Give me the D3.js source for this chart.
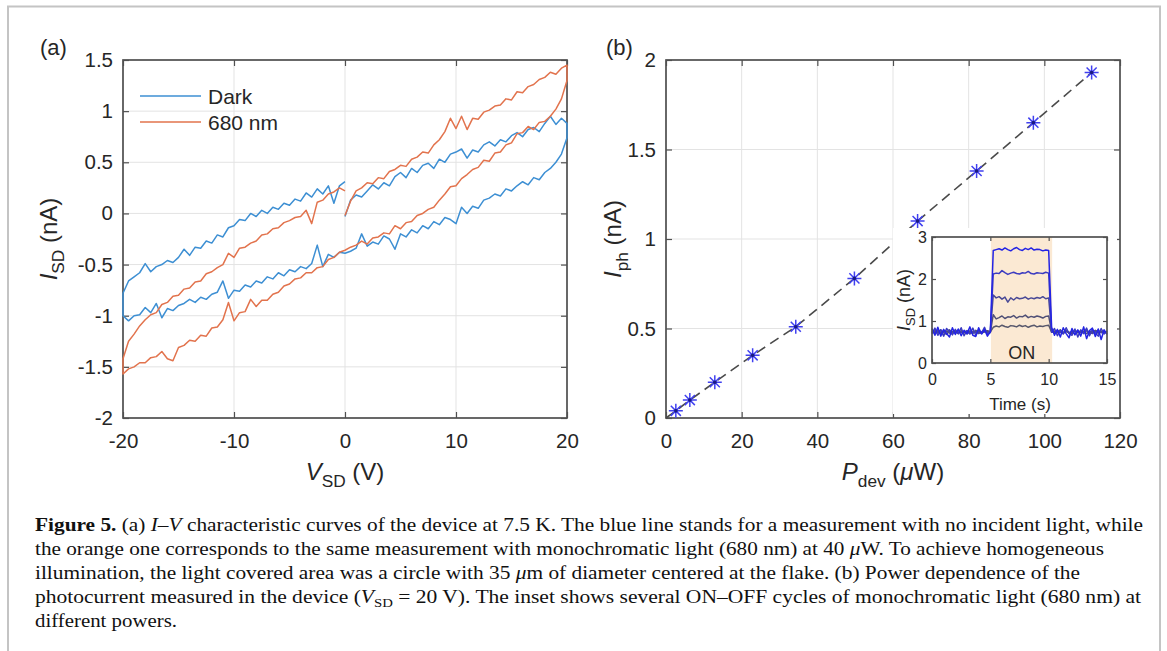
<!DOCTYPE html>
<html><head><meta charset="utf-8">
<script src="https://cdn.jsdelivr.net/npm/d3@7"></script>
<style>
body{margin:0;background:#fff;}
svg{display:block;}
text{font-family:"Liberation Sans",Arial,sans-serif;}
.cap text{font-family:"Liberation Serif","Times New Roman",serif;}
</style>
</head><body><svg id="c" width="1167" height="651"></svg>
<script>
// ---------- Panel (a) data ----------
const vNeg = [-20,-19.5,-19,-18.5,-18,-17.5,-17,-16.5,-16,-15.5,-15,-14.5,-14,-13.5,-13,-12.5,-12,-11.5,-11,-10.5,-10,-9.5,-9,-8.5,-8,-7.5,-7,-6.5,-6,-5.5,-5,-4.5,-4,-3.5,-3,-2.5,-2,-1.5,-1,-0.5,0];
const vPos = [0,0.5,1,1.5,2,2.5,3,3.5,4,4.5,5,5.5,6,6.5,7,7.5,8,8.5,9,9.5,10,10.5,11,11.5,12,12.5,13,13.5,14,14.5,15,15.5,16,16.5,17,17.5,18,18.5,19,19.5,20];

const darkUpperRight = [-0.03,0.13,0.18,0.16,0.22,0.28,0.24,0.3,0.27,0.36,0.4,0.35,0.44,0.4,0.47,0.49,0.44,0.53,0.5,0.58,0.6,0.63,0.54,0.62,0.6,0.67,0.7,0.66,0.72,0.7,0.76,0.79,0.75,0.82,0.84,0.8,0.88,0.95,0.87,0.93,0.88];
const darkLowerRight = [-0.39,-0.37,-0.34,-0.2,-0.32,-0.28,-0.3,-0.22,-0.25,-0.35,-0.2,-0.23,-0.16,-0.19,-0.12,-0.15,-0.08,-0.11,-0.04,-0.06,-0.1,0.06,0.0,0.07,0.05,0.13,0.15,0.19,0.17,0.24,0.22,0.27,0.31,0.28,0.35,0.33,0.4,0.44,0.5,0.58,0.74];
const darkLowerLeft = [-1.0,-1.05,-1.0,-0.99,-0.92,-0.97,-0.88,-1.02,-0.93,-0.95,-0.9,-0.88,-0.84,-0.87,-0.82,-0.84,-0.79,-0.77,-0.66,-0.83,-0.75,-0.76,-0.7,-0.72,-0.66,-0.68,-0.62,-0.64,-0.58,-0.61,-0.55,-0.57,-0.52,-0.54,-0.49,-0.31,-0.52,-0.4,-0.43,-0.38,-0.39];
const darkUpperLeft = [-0.78,-0.66,-0.62,-0.58,-0.49,-0.57,-0.52,-0.5,-0.46,-0.48,-0.43,-0.35,-0.41,-0.33,-0.34,-0.27,-0.29,-0.21,-0.23,-0.14,-0.12,-0.06,-0.07,0.0,-0.03,0.03,0.0,0.06,0.04,0.1,0.08,0.14,0.12,0.2,0.16,0.24,0.19,0.27,0.1,0.27,0.31];

const litUpperRight = [-0.02,0.12,0.22,0.25,0.3,0.29,0.35,0.34,0.41,0.43,0.47,0.46,0.53,0.55,0.6,0.59,0.67,0.72,0.8,0.93,0.83,0.95,0.82,0.93,0.92,0.99,1.01,1.05,1.06,1.12,1.11,1.19,1.18,1.24,1.26,1.31,1.33,1.38,1.36,1.42,1.45];
const litLowerRight = [-0.36,-0.33,-0.31,-0.27,-0.3,-0.24,-0.23,-0.19,-0.2,-0.12,-0.15,-0.09,-0.08,-0.02,0.0,0.04,0.06,0.13,0.19,0.26,0.27,0.34,0.38,0.43,0.45,0.52,0.51,0.59,0.6,0.67,0.69,0.78,0.79,0.85,0.82,0.89,0.9,0.95,1.02,1.12,1.3];
const litLowerLeft = [-1.57,-1.52,-1.5,-1.46,-1.46,-1.41,-1.4,-1.35,-1.42,-1.44,-1.31,-1.29,-1.24,-1.25,-1.19,-1.2,-1.12,-1.11,-1.04,-0.87,-1.05,-0.97,-0.96,-0.84,-0.91,-0.85,-0.85,-0.79,-0.77,-0.71,-0.69,-0.64,-0.63,-0.58,-0.58,-0.53,-0.52,-0.45,-0.43,-0.38,-0.36];
const litUpperLeft = [-1.42,-1.25,-1.18,-1.1,-1.04,-0.99,-0.97,-0.89,-0.87,-0.81,-0.8,-0.74,-0.73,-0.67,-0.66,-0.59,-0.57,-0.53,-0.5,-0.39,-0.43,-0.34,-0.33,-0.29,-0.27,-0.21,-0.2,-0.15,-0.14,-0.09,-0.07,-0.04,-0.03,0.03,-0.1,0.11,0.13,0.19,0.21,0.25,0.22];

const seriesNames = ["Dark","680 nm"];
const ticksAX = [-20,-10,0,10,20];
const ticksAY = [-2,-1.5,-1,-0.5,0,0.5,1,1.5];

// ---------- Panel (b) data ----------
const pDev = [2.6,6.3,12.9,22.9,34.3,49.8,66.5,82.1,97.1,112.5];
const iPh  = [0.04,0.1,0.2,0.35,0.51,0.78,1.1,1.38,1.65,1.93];
const fitStart = [0,0];
const ticksBX = [0,20,40,60,80,100,120];
const ticksBY = [0,0.5,1,1.5,2];

// ---------- Inset data ----------
const timeS = [0,0.25,0.5,0.75,1,1.25,1.5,1.75,2,2.25,2.5,2.75,3,3.25,3.5,3.75,4,4.25,4.5,4.75,5,5.25,5.5,5.75,6,6.25,6.5,6.75,7,7.25,7.5,7.75,8,8.25,8.5,8.75,9,9.25,9.5,9.75,10,10.25,10.5,10.75,11,11.25,11.5,11.75,12,12.25,12.5,12.75,13,13.25,13.5,13.75,14,14.25,14.5,14.75,15];
const trace1 = [0.82,0.66,0.85,0.64,0.8,0.7,0.62,0.84,0.68,0.81,0.65,0.78,0.7,0.86,0.66,0.63,0.84,0.69,0.8,0.64,0.74,
  2.68,2.7,2.72,2.69,2.74,2.7,2.67,2.72,2.75,2.7,2.68,2.73,2.7,2.74,2.69,2.71,2.7,2.67,2.69,2.68,
  0.85,0.66,0.8,0.62,0.84,0.7,0.6,0.82,0.67,0.79,0.64,0.86,0.58,0.77,0.83,0.63,0.81,0.56,0.79,0.68];
const trace2 = [0.7,0.83,0.66,0.79,0.64,0.82,0.75,0.67,0.8,0.7,0.84,0.65,0.77,0.69,0.83,0.66,0.78,0.72,0.85,0.68,0.73,
  2.12,2.14,2.13,2.2,2.15,2.11,2.14,2.16,2.13,2.12,2.15,2.14,2.18,2.13,2.12,2.15,2.14,2.13,2.16,2.14,
  0.73,0.82,0.65,0.78,0.69,0.84,0.7,0.66,0.81,0.62,0.79,0.7,0.83,0.65,0.8,0.72,0.64,0.82,0.69,0.76];
const trace3 = [0.76,0.7,0.74,0.79,0.72,0.68,0.77,0.74,0.71,0.78,0.73,0.75,0.69,0.77,0.72,0.76,0.7,0.74,0.78,0.72,0.76,
  1.62,1.55,1.58,1.52,1.57,1.45,1.55,1.5,1.56,1.53,1.54,1.57,1.52,1.55,1.53,1.56,1.54,1.58,1.53,1.55,
  0.75,0.71,0.77,0.73,0.7,0.78,0.72,0.75,0.69,0.76,0.74,0.71,0.77,0.73,0.7,0.75,0.78,0.72,0.74,0.71];
const trace4 = [0.72,0.77,0.73,0.7,0.76,0.74,0.79,0.71,0.75,0.7,0.77,0.72,0.76,0.74,0.7,0.78,0.73,0.71,0.75,0.77,0.73,
  1.15,1.05,1.08,1.12,1.06,1.1,1.09,1.13,1.07,1.11,1.1,1.14,1.08,1.11,1.09,1.12,1.1,1.07,1.11,1.12,
  0.76,0.72,0.74,0.79,0.71,0.75,0.73,0.7,0.77,0.74,0.72,0.76,0.7,0.75,0.73,0.78,0.71,0.74,0.76,0.73];
const trace5 = [0.75,0.73,0.77,0.72,0.74,0.76,0.71,0.75,0.73,0.78,0.72,0.74,0.76,0.7,0.75,0.73,0.77,0.71,0.74,0.76,0.74,
  0.85,0.88,0.86,0.9,0.87,0.85,0.89,0.88,0.86,0.9,0.87,0.89,0.85,0.88,0.9,0.86,0.88,0.87,0.89,0.9,
  0.74,0.76,0.72,0.75,0.73,0.77,0.71,0.74,0.76,0.72,0.75,0.73,0.78,0.7,0.74,0.76,0.72,0.75,0.73,0.74];
const onWindow = [5.05,10.3];
const ticksIX = [0,5,10,15];
const ticksIY = [0,1,2,3];

// ---------- Setup ----------
const svg = d3.select("#c");
const AX = "#505050", TXT = "#262626", GRID = "#e3e3e3";
const cBlue = "#3d8fd3", cOrange = "#e2734d";

svg.append("path").attr("d","M8,651 V6.5 H1160 V651").attr("fill","none").attr("stroke","#c4c4c4").attr("stroke-width",2);

function drawAxes(g, x, y, tx, ty, opts) {
  const [x0,x1] = x.range(), [y0,y1] = y.range();
  if (opts.grid) {
    g.append("g").selectAll("line").data(tx).join("line")
      .attr("x1",d=>x(d)).attr("x2",d=>x(d)).attr("y1",y0).attr("y2",y1)
      .attr("stroke",GRID).attr("stroke-width",1);
    g.append("g").selectAll("line").data(ty).join("line")
      .attr("y1",d=>y(d)).attr("y2",d=>y(d)).attr("x1",x0).attr("x2",x1)
      .attr("stroke",GRID).attr("stroke-width",1);
  }
  const fmt = d => String(d);
  const tl = opts.tick;
  const mk = (axis, tr, labels) => {
    const a = g.append("g").attr("transform",tr).call(axis);
    a.select(".domain").remove();
    a.selectAll(".tick line").attr("stroke",AX).attr("stroke-width",1.2);
    a.selectAll("text").attr("fill",TXT).style("font-size",opts.fs+"px");
    if (!labels) a.selectAll("text").remove();
    return a;
  };
  mk(d3.axisBottom(x).tickValues(tx).tickSize(-tl).tickPadding(opts.padX).tickFormat(fmt), `translate(0,${y0})`, true);
  mk(d3.axisTop(x).tickValues(tx).tickSize(-tl).tickFormat(fmt), `translate(0,${y1})`, false);
  mk(d3.axisLeft(y).tickValues(ty).tickSize(-tl).tickPadding(opts.padY).tickFormat(fmt), `translate(${x0},0)`, true);
  mk(d3.axisRight(y).tickValues(ty).tickSize(-tl).tickFormat(fmt), `translate(${x1},0)`, false);
  g.append("rect").attr("x",x0).attr("y",y1).attr("width",x1-x0).attr("height",y0-y1)
    .attr("fill","none").attr("stroke",AX).attr("stroke-width",1.7);
}

// parts: [text, style] where style: "i" italic, "s" subscript, "" normal
function richLabel(g, x, y, parts, fs, rotate) {
  const t = g.append("text").attr("fill",TXT).style("font-size",fs+"px").attr("text-anchor","middle")
    .attr("transform", rotate ? `translate(${x},${y}) rotate(-90)` : `translate(${x},${y})`);
  let sub = false;
  parts.forEach(([s,f]) => {
    const ts = t.append("tspan").text(s);
    if (f.includes("i")) ts.style("font-style","italic");
    if (f.includes("s")) { ts.attr("dy", fs*0.3).style("font-size",(fs*0.72)+"px"); sub = true; }
    else if (sub) { ts.attr("dy", -fs*0.3); sub = false; }
  });
  return t;
}

// ---------- Panel (a) ----------
const xA = d3.scaleLinear([-20,20],[123,567]);
const yA = d3.scaleLinear([-2,1.5],[418,60]);
const gA = svg.append("g");
drawAxes(gA, xA, yA, ticksAX, ticksAY, {grid:true, tick:6, fs:20.5, padX:15, padY:10});

function loop(upR, lowR, lowL, upL) {
  const pts = [];
  vPos.forEach((v,i)=>pts.push([v, upR[i]]));
  for (let i=vPos.length-1;i>=0;i--) pts.push([vPos[i], lowR[i]]);
  for (let i=vNeg.length-1;i>=0;i--) pts.push([vNeg[i], lowL[i]]);
  vNeg.forEach((v,i)=>pts.push([v, upL[i]]));
  return pts;
}
const lineA = d3.line().x(d=>xA(d[0])).y(d=>yA(d[1]));
const seriesA = [
  {name:seriesNames[0], color:cBlue, pts:loop(darkUpperRight,darkLowerRight,darkLowerLeft,darkUpperLeft)},
  {name:seriesNames[1], color:cOrange, pts:loop(litUpperRight,litLowerRight,litLowerLeft,litUpperLeft)}
];
gA.append("g").selectAll("path").data(seriesA).join("path")
  .attr("d",d=>lineA(d.pts)).attr("fill","none").attr("stroke",d=>d.color)
  .attr("stroke-width",1.5).attr("stroke-linejoin","round");

const leg = gA.append("g").selectAll("g").data(seriesA).join("g")
  .attr("transform",(d,i)=>`translate(140,${96+i*26})`);
leg.append("line").attr("x1",0).attr("x2",61).attr("stroke",d=>d.color).attr("stroke-width",1.5);
leg.append("text").attr("x",68).attr("dy","0.36em").text(d=>d.name).attr("fill",TXT).style("font-size","21px");

gA.append("text").attr("x",40).attr("y",55).text("(a)").attr("fill",TXT).style("font-size","22px");
richLabel(gA, 57, 239, [["I","i"],["SD","s"],[" (nA)",""]], 24, true);
richLabel(gA, 345, 480, [["V","i"],["SD","s"],[" (V)",""]], 24, false);

// ---------- Panel (b) ----------
const xB = d3.scaleLinear([0,120],[666,1120]);
const yB = d3.scaleLinear([0,2],[418,60]);
const gB = svg.append("g");
drawAxes(gB, xB, yB, ticksBX, ticksBY, {grid:true, tick:6, fs:20.5, padX:15, padY:10});

const ptsB = pDev.map((p,i)=>[p,iPh[i]]);
gB.append("path").datum([fitStart, ...ptsB])
  .attr("d", d3.line().x(d=>xB(d[0])).y(d=>yB(d[1])))
  .attr("fill","none").attr("stroke","#4a4a4a").attr("stroke-width",1.6).attr("stroke-dasharray","10,6");
const star = (cx,cy,r) => {
  const p = d3.path(), q = r*0.72;
  p.moveTo(cx-r,cy); p.lineTo(cx+r,cy);
  p.moveTo(cx,cy-r); p.lineTo(cx,cy+r);
  p.moveTo(cx-q,cy-q); p.lineTo(cx+q,cy+q);
  p.moveTo(cx-q,cy+q); p.lineTo(cx+q,cy-q);
  return p.toString();
};
gB.append("g").selectAll("path").data(ptsB).join("path")
  .attr("d",d=>star(xB(d[0]),yB(d[1]),7)).attr("stroke","#4040f0").attr("stroke-width",1.5).attr("fill","none");
gB.append("g").selectAll("circle").data(ptsB).join("circle")
  .attr("cx",d=>xB(d[0])).attr("cy",d=>yB(d[1])).attr("r",1.8).attr("fill","#1a1a80");

gB.append("text").attr("x",606).attr("y",55).text("(b)").attr("fill",TXT).style("font-size","22px");
richLabel(gB, 621, 239, [["I","i"],["ph","s"],[" (nA)",""]], 24, true);
richLabel(gB, 893, 480, [["P","i"],["dev","s"],[" (",""],["\u03bc","i"],["W)",""]], 24, false);

// ---------- Inset ----------
const xI = d3.scaleLinear([0,15],[932,1107]);
const yI = d3.scaleLinear([0,3],[363,237]);
const gI = svg.append("g");
gI.append("rect").attr("x",893).attr("y",228).attr("width",224).attr("height",186).attr("fill","#fff");
gI.append("rect").attr("x",xI(onWindow[0])).attr("y",yI(3)).attr("width",xI(onWindow[1])-xI(onWindow[0]))
  .attr("height",yI(0)-yI(3)).attr("fill","#fbe9d3");
const traces = [
  {v:trace5, c:"#58586c"},
  {v:trace4, c:"#505076"},
  {v:trace3, c:"#494996"},
  {v:trace2, c:"#3b3bc0"},
  {v:trace1, c:"#2424e4"}
];
const lineI = d3.line().x((d,i)=>xI(timeS[i])).y(d=>yI(d));
gI.append("g").selectAll("path").data(traces).join("path")
  .attr("d",d=>lineI(d.v)).attr("fill","none").attr("stroke",d=>d.c).attr("stroke-width",1.5).attr("stroke-linejoin","round");
gI.append("text").attr("x",xI(7.7)).attr("y",yI(0.25)).attr("dy","0.35em").attr("text-anchor","middle")
  .text("ON").attr("fill",TXT).style("font-size","18px");
drawAxes(gI, xI, yI, ticksIX, ticksIY, {grid:false, tick:4, fs:16, padX:11, padY:5});
richLabel(gI, 910, 300, [["I","i"],["SD","s"],[" (nA)",""]], 18, true);
gI.append("text").attr("x",1020).attr("y",410).attr("text-anchor","middle").text("Time (s)").attr("fill",TXT).style("font-size","17px");

// ---------- Caption ----------
const capLines = [
  {y:531, len:1108, parts:[["Figure 5.","b"],[" (a) ",""],["I","i"],["\u2013",""],["V","i"],[" characteristic curves of the device at 7.5 K. The blue line stands for a measurement with no incident light, while",""]]},
  {y:555, len:1069, parts:[["the orange one corresponds to the same measurement with monochromatic light (680 nm) at 40 ",""],["\u03bc","i"],["W. To achieve homogeneous",""]]},
  {y:579, len:1045, parts:[["illumination, the light covered area was a circle with 35 ",""],["\u03bc","i"],["m of diameter centered at the flake. (b) Power dependence of the",""]]},
  {y:603, len:1106, parts:[["photocurrent measured in the device (",""],["V","i"],["SD","s"],[" = 20 V). The inset shows several ON\u2013OFF cycles of monochromatic light (680 nm) at",""]]},
  {y:627, len:142, parts:[["different powers.",""]]}
];
const cap = svg.append("g").attr("class","cap");
capLines.forEach(L => {
  const t = cap.append("text").attr("x",35).attr("y",L.y).attr("fill","#111").style("font-size","19px")
    .attr("textLength",L.len).attr("lengthAdjust","spacingAndGlyphs");
  let sub = false;
  L.parts.forEach(([s,f]) => {
    const ts = t.append("tspan").text(s);
    if (f==="b") ts.style("font-weight","bold");
    if (f==="i") ts.style("font-style","italic");
    if (f==="s") { ts.attr("dy",4).style("font-size","13px"); sub = true; }
    else if (sub) { ts.attr("dy",-4); sub = false; }
  });
});
</script></body></html>
